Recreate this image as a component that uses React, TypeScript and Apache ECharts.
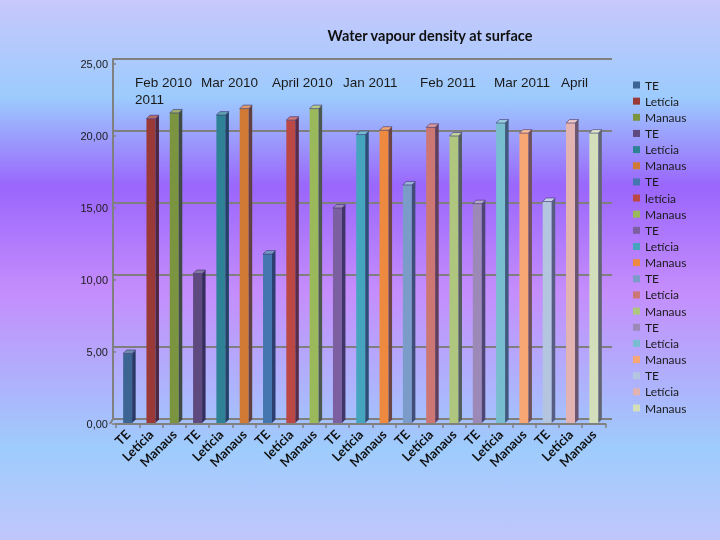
import React, { useEffect, useRef } from "react";
import * as echarts from "echarts";

const categories = [
  "TE", "Letícia", "Manaus",
  "TE", "Letícia", "Manaus",
  "TE", "letícia", "Manaus",
  "TE", "Letícia", "Manaus",
  "TE", "Letícia", "Manaus",
  "TE", "Letícia", "Manaus",
  "TE", "Letícia", "Manaus",
];
const values = [
  4.9, 21.2, 21.6,
  10.45, 21.45, 21.9,
  11.8, 21.1, 21.9,
  15.0, 20.1, 20.4,
  16.6, 20.6, 20.0,
  15.3, 20.9, 20.2,
  15.45, 20.9, 20.2,
];
const yMin = 0;
const yMax = 25;
const yStep = 5;
const monthLabels = ["Feb 2010", "Mar 2010", "April 2010", "Jan 2011", "Feb 2011", "Mar 2011", "April", "2011"];
const title = "Water vapour density at surface";

const COLORS = [
  "#3D6593", "#9A3A38", "#7A9440",
  "#5E4A7E", "#2F8296", "#D07A36",
  "#4676B0", "#BC4845", "#9AB95A",
  "#7C5FA0", "#45A5BF", "#EE8A40",
  "#7B9CC8", "#CD7775", "#AEC67E",
  "#9D89B8", "#79BED0", "#F6A774",
  "#B4C5E0", "#E3B3B1", "#D3DFBA",
];
const MONTH_POS: [number, number][] = [
  [135, 82], [201, 82], [272, 82], [343, 82], [420, 82], [494, 82], [561, 82], [135, 99],
];

function mix(hex: string, other: string, t: number) {
  const a = parseInt(hex.slice(1), 16);
  const b = parseInt(other.slice(1), 16);
  const ch = (v: number, s: number) => (v >> s) & 255;
  const m = (s: number) => Math.round(ch(a, s) * (1 - t) + ch(b, s) * t);
  return `rgb(${m(16)},${m(8)},${m(0)})`;
}

export default function App() {
  const ref = useRef<HTMLDivElement>(null);
  useEffect(() => {
    if (!ref.current) return;
    const chart = echarts.init(ref.current, undefined, { renderer: "svg" });
    const makeRender = (i: number) => (params: any, api: any) => {
      const top = api.coord([api.value(0), api.value(1)]);
      const base = api.coord([api.value(0), 0]);
      const w = 9;
      const d = 3.5;
      const cx = top[0];
      const l = cx - w / 2;
      const r = cx + w / 2;
      const y1 = top[1];
      const y0 = base[1] - 1;
      const c = COLORS[i];
      const side = mix(c, "#1c1c48", 0.62);
      const topc = mix(c, "#ffffff", 0.25);
      return {
        type: "group",
        children: [
          { type: "rect", shape: { x: l, y: y1, width: w, height: y0 - y1 }, style: { fill: c } },
          {
            type: "polygon",
            shape: { points: [[r, y1], [r + d, y1 - d], [r + d, y0 - d], [r, y0]] },
            style: { fill: side },
          },
          {
            type: "polygon",
            shape: { points: [[l, y1], [l + d, y1 - d], [r + d, y1 - d], [r, y1]] },
            style: { fill: topc, stroke: "#3a3070", lineWidth: 0.6 },
          },
        ],
      };
    };
    const series = categories.map((c, i) => ({
      type: "custom",
      name: `${c}|${i}`,
      xAxisIndex: 1,
      yAxisIndex: 1,
      data: [[i, values[i]]],
      encode: { x: 0, y: 1 },
      itemStyle: { color: COLORS[i] },
      renderItem: makeRender(i),
      z: 5,
    }));
    const fmt = (v: number) => v.toFixed(2).replace(".", ",");
    chart.setOption({
      animation: false,
      title: {
        text: title,
        left: 425,
        top: 23,
        textAlign: "center",
        textStyle: { fontFamily: "Lato", fontWeight: "bold", fontSize: 14.5, color: "#111" },
      },
      graphic: [
        {
          type: "rect",
          z: -100,
          silent: true,
          shape: { x: 0, y: 0, width: 720, height: 540 },
          style: {
            fill: {
              type: "linear", x: 0, y: 0, x2: 0, y2: 1,
              colorStops: [
                { offset: 0, color: "#C8C8FC" },
                { offset: 0.18, color: "#9CCBFD" },
                { offset: 0.345, color: "#9A66FC" },
                { offset: 0.54, color: "#C58DFC" },
                { offset: 0.83, color: "#9ECCFC" },
                { offset: 1, color: "#C0C6FC" },
              ],
            },
          },
        },
        ...monthLabels.map((t, i) => ({
          type: "text",
          x: MONTH_POS[i][0],
          y: MONTH_POS[i][1],
          z: 10,
          style: {
            text: t,
            fontFamily: "Liberation Sans",
            fontSize: 13.5,
            fill: "#1a1a1a",
            textVerticalAlign: "middle",
          },
        })),
        {
          type: "line",
          z: 3,
          shape: { x1: 113, y1: 419, x2: 110, y2: 424 },
          style: { stroke: "#808080", lineWidth: 2 },
        },
      ],
      legend: {
        orient: "vertical",
        left: 628,
        top: 74,
        itemWidth: 7,
        itemHeight: 7,
        itemGap: 4.15,
        icon: "rect",
        data: series.map((s) => s.name),
        formatter: (name: string) => name.split("|")[0],
        textStyle: { fontFamily: "Lato", fontSize: 12, lineHeight: 12, color: "#1a1a1a" },
      },
      grid: [
        { left: 113, right: 108, top: 59, bottom: 121 },
        { left: 116, right: 114.5, top: 64, bottom: 116 },
      ],
      xAxis: [
        { type: "value", gridIndex: 0, show: false, min: 0, max: 1 },
        {
          type: "category",
          gridIndex: 1,
          data: categories,
          offset: 1,
          axisLine: { show: true, lineStyle: { color: "#808080", width: 2 } },
          axisTick: { show: true, interval: 0, length: 4, lineStyle: { color: "#808080", width: 1.5 } },
          axisLabel: {
            interval: 0,
            rotate: 45,
            margin: 7,
            fontFamily: "Lato",
            fontWeight: "bold",
            fontSize: 13,
            color: "#111",
          },
        },
      ],
      yAxis: [
        {
          type: "value",
          gridIndex: 0,
          min: yMin,
          max: yMax,
          interval: yStep,
          axisLine: { show: true, lineStyle: { color: "#808080", width: 2 } },
          axisTick: { show: false },
          axisLabel: { show: false },
          splitLine: { show: true, lineStyle: { color: "#7f7f7f", width: 2 } },
        },
        {
          type: "value",
          gridIndex: 1,
          min: yMin,
          max: yMax,
          interval: yStep,
          axisLine: { show: false },
          axisTick: { show: true, length: 4, lineStyle: { color: "#808080", width: 1.5 } },
          axisLabel: {
            formatter: fmt,
            margin: 8,
            fontFamily: "Liberation Sans",
            fontSize: 11,
            color: "#1a1a1a",
          },
          splitLine: { show: false },
        },
      ],
      series,
    });
    return () => chart.dispose();
  }, []);
  return <div ref={ref} style={{ position: "fixed", left: 0, top: 0, width: 720, height: 540 }} />;
}
